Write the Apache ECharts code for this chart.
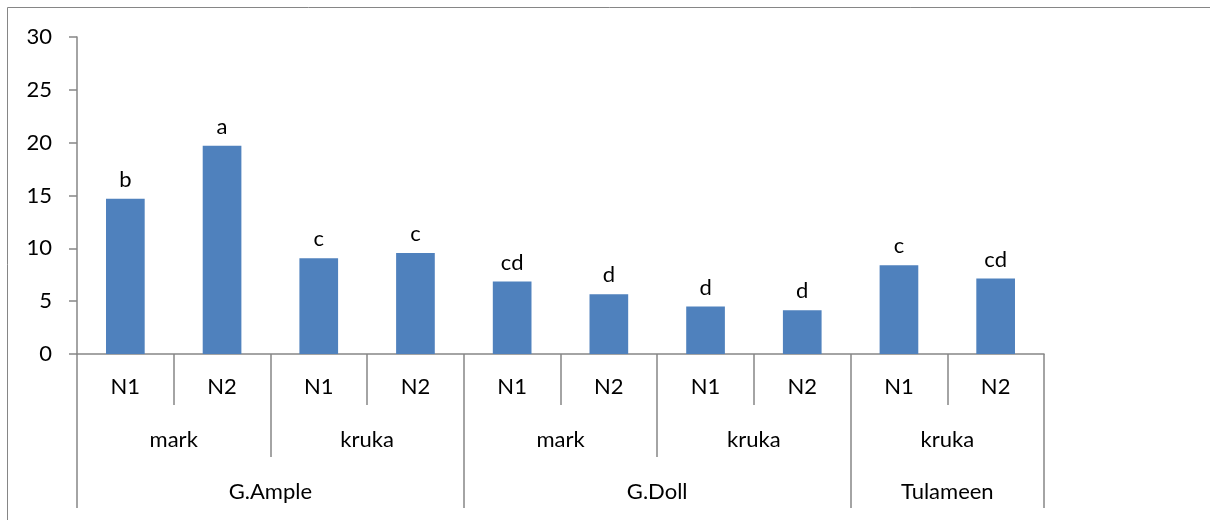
<!DOCTYPE html>
<html>
<head>
<meta charset="utf-8">
<script src="https://cdn.jsdelivr.net/npm/echarts@6/dist/echarts.min.js"></script>
<style>
  html, body { margin: 0; padding: 0; background: #fff; }
  #chart { width: 1210px; height: 520px; }
</style>
</head>
<body>
<div id="chart"></div>
<script>
// data
var doses = ['N1', 'N2', 'N1', 'N2', 'N1', 'N2', 'N1', 'N2', 'N1', 'N2'];
var values = [14.7, 19.7, 9.05, 9.55, 6.85, 5.65, 4.5, 4.15, 8.4, 7.15];
var letters = ['b', 'a', 'c', 'c', 'cd', 'd', 'd', 'd', 'c', 'cd'];
var methods = ['mark', 'kruka', 'mark', 'kruka', 'kruka'];
var cultivars = ['G.Ample', 'G.Doll', 'Tulameen'];
var cultivarSpans = [4, 4, 2];

var font = 'Lato, "Open Sans", sans-serif';
var axisGray = '#868686';
var fs = 22;

// cultivar boundaries and label centres on a 0..10 scale
var bounds = [0];
var centres = [];
cultivarSpans.forEach(function (s, i) {
    centres.push(bounds[i] + s / 2);
    bounds.push(bounds[i] + s);
});

var chart = echarts.init(document.getElementById('chart'));

var option = {
    animation: false,
    textStyle: { fontFamily: font },
    graphic: [{
        type: 'rect',
        shape: { x: 7.5, y: 7.5, width: 1300, height: 600 },
        style: { fill: 'none', stroke: axisGray, lineWidth: 1 },
        z: -1
    }],
    grid: { left: 77, right: 166, top: 37, bottom: 166 },
    xAxis: [{
        type: 'category',
        data: doses,
        position: 'bottom',
        axisLine: { lineStyle: { color: axisGray, width: 1.5 } },
        axisTick: { show: true, interval: 0, length: 51, lineStyle: { color: axisGray, width: 1.5 } },
        axisLabel: { interval: 0, color: '#000', fontSize: fs, margin: 22, fontFamily: font }
    }, {
        type: 'category',
        data: methods,
        position: 'bottom',
        offset: 51,
        axisLine: { show: false },
        axisTick: { show: true, interval: 0, length: 52, lineStyle: { color: axisGray, width: 1.5 } },
        axisLabel: { interval: 0, color: '#000', fontSize: fs, margin: 24, fontFamily: font }
    }, {
        type: 'value',
        min: 0,
        max: doses.length,
        position: 'bottom',
        offset: 103,
        splitLine: { show: false },
        axisLine: { show: false },
        axisTick: { show: true, length: 51, customValues: bounds, lineStyle: { color: axisGray, width: 1.5 } },
        axisLabel: {
            color: '#000', fontSize: fs, margin: 24, fontFamily: font,
            customValues: centres,
            formatter: function (v) {
                var i = centres.indexOf(v);
                return i >= 0 ? cultivars[i] : '';
            }
        }
    }],
    yAxis: {
        type: 'value',
        min: 0,
        max: 30,
        interval: 5,
        splitLine: { show: false },
        axisLine: { show: true, lineStyle: { color: axisGray, width: 1.5 } },
        axisTick: { show: true, length: 8, lineStyle: { color: axisGray, width: 1.5 } },
        axisLabel: { color: '#000', fontSize: 22, margin: 25, fontFamily: font }
    },
    series: [{
        type: 'bar',
        data: values,
        barWidth: '40%',
        itemStyle: { color: '#4F81BD' },
        label: {
            show: true,
            position: 'top',
            distance: 8,
            color: '#000',
            fontSize: fs,
            fontFamily: font,
            formatter: function (p) { return letters[p.dataIndex]; }
        }
    }]
};
chart.setOption(option);

window.addEventListener('resize', function () {
    chart.resize();
});
</script>
</body>
</html>
